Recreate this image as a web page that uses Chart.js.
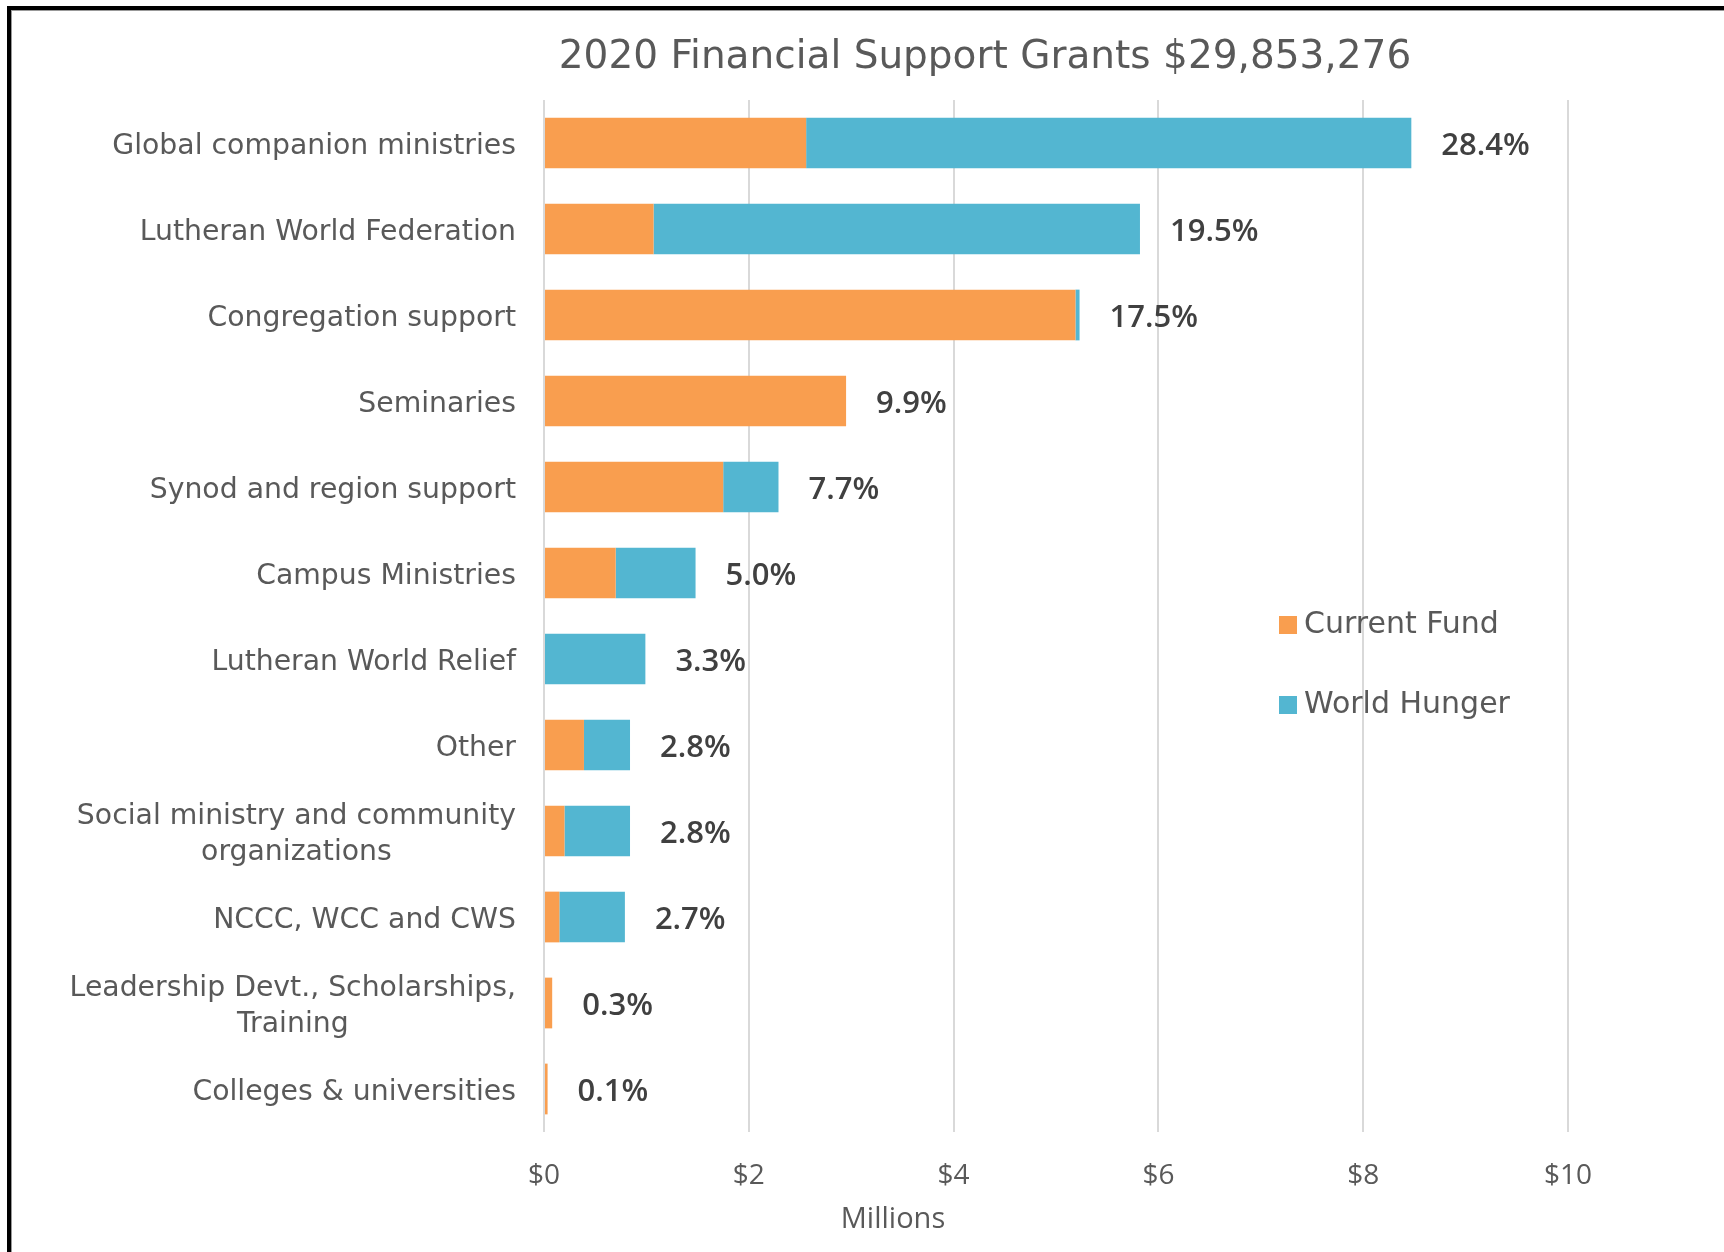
<!DOCTYPE html>
<html>
<head>
<meta charset="utf-8">
<script src="https://cdn.jsdelivr.net/npm/chart.js@4/dist/chart.umd.min.js"></script>
<style>
  html, body { margin: 0; padding: 0; background: #fff; overflow: hidden; }
  #frame {
    position: absolute; left: 7px; top: 6px; width: 1800px; height: 1300px;
    border-left: 4px solid #000; border-top: 4px solid #000;
    box-shadow: inset 1px 1px 0 #999;
  }
  #wrap { position: absolute; left: 0; top: 0; width: 1724px; height: 1252px; }
</style>
</head>
<body>
<div id="frame"></div>
<div id="wrap"><canvas id="grants" width="1724" height="1252"></canvas></div>
<script>
const grantsCanvas = document.getElementById("grants");

// values in millions of dollars
const categories = [
  "Global companion ministries",
  "Lutheran World Federation",
  "Congregation support",
  "Seminaries",
  "Synod and region support",
  "Campus Ministries",
  "Lutheran World Relief",
  "Other",
  ["Social ministry and community", "organizations"],
  "NCCC, WCC and CWS",
  ["Leadership Devt., Scholarships,", "Training"],
  "Colleges & universities",
];
const currentFund = [2.56, 1.07, 5.19, 2.95, 1.75, 0.70, 0, 0.39, 0.20, 0.15, 0.08, 0.035];
const worldHunger = [5.91, 4.75, 0.04, 0, 0.54, 0.78, 0.99, 0.45, 0.64, 0.64, 0, 0];
const shares = ["28.4%", "19.5%", "17.5%", "9.9%", "7.7%", "5.0%", "3.3%", "2.8%", "2.8%", "2.7%", "0.3%", "0.1%"];
const xTicks = [0, 2, 4, 6, 8, 10];

const TITLE = "2020 Financial Support Grants $29,853,276";
const GREY = "#595959";

const decorPlugin = {
  id: "decor",
  afterDraw: (chart) => {
    const { ctx, chartArea } = chart;
    const xs = chart.scales.x;
    const ys = chart.scales.y;
    ctx.save();
    ctx.textBaseline = "middle";

    // title
    ctx.fillStyle = GREY;
    ctx.font = "39px 'DejaVu Sans'";
    ctx.textAlign = "center";
    ctx.fillText(TITLE, 985, 58);

    // category labels, block right aligned, lines centred (like Excel)
    ctx.font = "28.3px 'DejaVu Sans'";
    categories.forEach((lab, i) => {
      const lines = Array.isArray(lab) ? lab : [lab];
      const w = Math.max(...lines.map((l) => ctx.measureText(l).width));
      const cx = chartArea.left - 28 - w / 2;
      const y = ys.getPixelForValue(i) + 4;
      const lh = 36;
      lines.forEach((l, k) => {
        ctx.fillText(l, cx, y - ((lines.length - 1) * lh) / 2 + k * lh);
      });
    });

    // percentage labels after each bar
    ctx.font = "600 31px 'Open Sans'";
    ctx.fillStyle = "#404040";
    ctx.textAlign = "left";
    shares.forEach((s, i) => {
      const x = xs.getPixelForValue(currentFund[i] + worldHunger[i]) + 30;
      ctx.fillText(s, x, ys.getPixelForValue(i) + 3);
    });

    // legend
    ctx.font = "30px 'DejaVu Sans'";
    chart.data.datasets.forEach((ds, k) => {
      const yc = 625 + k * 80;
      ctx.fillStyle = ds.backgroundColor;
      ctx.fillRect(1279, yc - 9, 18, 18);
      ctx.fillStyle = GREY;
      ctx.fillText(ds.label, 1304, yc);
    });

    // axis title
    ctx.font = "29px 'Open Sans'";
    ctx.textAlign = "center";
    ctx.fillText("Millions", 893, 1220);
    ctx.restore();
  },
};

const composeConfig = () => ({
  type: "bar",
  data: {
    labels: categories,
    datasets: [
      { label: "Current Fund", data: currentFund, backgroundColor: "#F99E4F" },
      { label: "World Hunger", data: worldHunger, backgroundColor: "#53B6D1" },
    ],
  },
  options: {
    indexAxis: "y",
    responsive: false,
    animation: false,
    devicePixelRatio: 1,
    layout: { padding: { top: 100, right: 156, bottom: 0, left: 0 } },
    datasets: { bar: { categoryPercentage: 1, barPercentage: 0.59 } },
    plugins: { legend: { display: false }, title: { display: false }, tooltip: { enabled: false } },
    scales: {
      x: {
        stacked: true,
        min: xTicks[0],
        max: xTicks[xTicks.length - 1],
        afterBuildTicks: (s) => { s.ticks = xTicks.map((v) => ({ value: v })); },
        afterFit: (s) => { s.height = 120; },
        ticks: {
          callback: (v) => "$" + v,
          color: GREY,
          font: { family: "Open Sans", size: 28 },
          padding: 27,
          maxRotation: 0,
        },
        grid: { color: "#D9D9D9", lineWidth: 2, drawTicks: false },
        border: { display: false },
      },
      y: {
        stacked: true,
        afterFit: (s) => { s.width = 544; },
        ticks: { display: false },
        grid: { display: false },
        border: { display: false },
      },
    },
  },
  plugins: [decorPlugin],
});

new Chart(grantsCanvas, composeConfig());
</script>
</body>
</html>
